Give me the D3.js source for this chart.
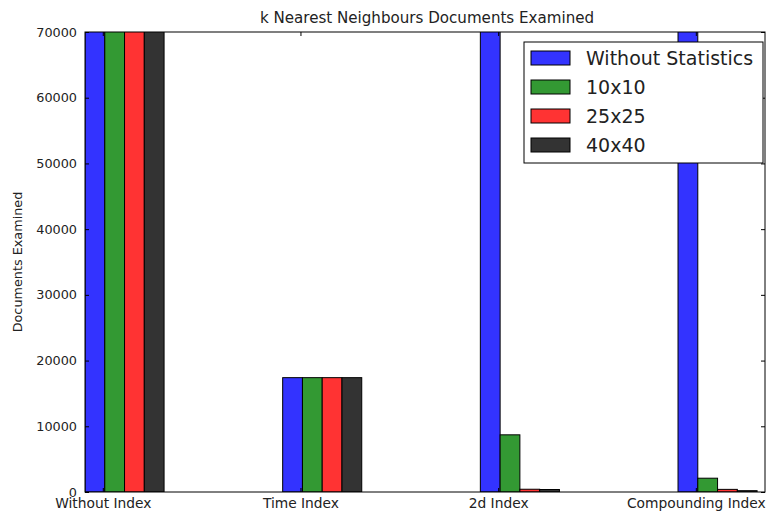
<!DOCTYPE html>
<html>
<head>
<meta charset="utf-8">
<script src="https://cdn.jsdelivr.net/npm/d3@7"></script>
<style>
  html, body { margin: 0; padding: 0; background: #fff; }
  svg { display: block; font-family: "DejaVu Sans", sans-serif; }
</style>
</head>
<body>
<svg id="chart" width="766" height="511"></svg>
<script>
// Index types along the x axis
const categories = ["Without Index", "Time Index", "2d Index", "Compounding Index"];
// Statistics grid configurations (one bar each per index type)
const seriesNames = ["Without Statistics", "10x10", "25x25", "40x40"];
// Documents examined per configuration; values above 70000 run past the axis
const withoutStatistics = [250000, 17400, 250000, 250000];
const grid10 = [250000, 17400, 8700, 2100];
const grid25 = [250000, 17400, 420, 400];
const grid40 = [250000, 17400, 380, 200];
const yTicks = [0, 10000, 20000, 30000, 40000, 50000, 60000, 70000];

const series = [withoutStatistics, grid10, grid25, grid40];
const colors = ["rgb(51,51,255)", "rgb(51,153,51)", "rgb(255,51,51)", "rgb(51,51,51)"];

const svg = d3.select("#chart");
const margin = { left: 85, right: 1, top: 32, bottom: 19 };
const W = 766, H = 511;
const x0 = margin.left, x1 = W - margin.right, y0 = H - margin.bottom, y1 = margin.top;

const barWidth = 0.1;
const x = d3.scaleLinear().domain([0, 3.44]).range([x0, x1]);
const y = d3.scaleLinear().domain([0, 70000]).range([y0, y1]);

svg.append("defs").append("clipPath").attr("id", "plot-clip")
  .append("rect").attr("x", x0).attr("y", y1).attr("width", x1 - x0).attr("height", y0 - y1);

const plot = svg.append("g").attr("clip-path", "url(#plot-clip)");

series.forEach((vals, k) => {
  plot.selectAll(null).data(vals).enter().append("rect")
    .attr("x", (d, i) => x(i + k * barWidth))
    .attr("width", x(barWidth) - x(0))
    .attr("y", d => y(d))
    .attr("height", d => y(0) - y(d))
    .attr("fill", colors[k])
    .attr("stroke", "#000")
    .attr("stroke-width", 1);
});

// Axis frame
svg.append("rect").attr("x", x0).attr("y", y1).attr("width", x1 - x0).attr("height", y0 - y1)
  .attr("fill", "none").attr("stroke", "#000").attr("stroke-width", 1);

// Y axis: ticks pointing inward on both sides
const yAxisL = d3.axisLeft(y).tickValues(yTicks).tickFormat(d3.format("d")).tickSizeInner(-4).tickSizeOuter(0).tickPadding(8);
const gyl = svg.append("g").attr("transform", `translate(${x0},0)`).call(yAxisL);
gyl.select(".domain").remove();
gyl.selectAll("text").attr("font-size", 12.8).attr("fill", "#222").attr("font-family", "DejaVu Sans");
const yAxisR = d3.axisRight(y).tickValues(yTicks).tickFormat("").tickSizeInner(-4).tickSizeOuter(0);
const gyr = svg.append("g").attr("transform", `translate(${x1},0)`).call(yAxisR);
gyr.select(".domain").remove();

// X axis: category labels at the first/second bar boundary
const tickPos = categories.map((c, i) => i + 0.09);
const xAxisB = d3.axisBottom(x).tickValues(tickPos).tickFormat((d, i) => categories[i]).tickSizeInner(-4).tickSizeOuter(0).tickPadding(6);
const gxb = svg.append("g").attr("transform", `translate(0,${y0})`).call(xAxisB);
gxb.select(".domain").remove();
gxb.selectAll("text").attr("font-size", 13.8).attr("fill", "#222").attr("font-family", "DejaVu Sans");
const xAxisT = d3.axisTop(x).tickValues(tickPos).tickFormat("").tickSizeInner(-4).tickSizeOuter(0);
const gxt = svg.append("g").attr("transform", `translate(0,${y1})`).call(xAxisT);
gxt.select(".domain").remove();
svg.selectAll(".tick line").attr("stroke", "#000");

// Title and axis label
svg.append("text").attr("x", 427).attr("y", 23).attr("text-anchor", "middle")
  .attr("font-size", 15.1).attr("fill", "#222").text("k Nearest Neighbours Documents Examined");
svg.append("text").attr("transform", `translate(22,${(y0 + y1) / 2}) rotate(-90)`)
  .attr("text-anchor", "middle").attr("font-size", 12.8).attr("fill", "#222").text("Documents Examined");

// Legend
const lg = svg.append("g").attr("transform", "translate(524,42)");
lg.append("rect").attr("width", 239).attr("height", 121).attr("fill", "#fff").attr("stroke", "#000").attr("stroke-width", 1);
seriesNames.forEach((name, k) => {
  const cy = 16 + k * 29;
  lg.append("rect").attr("x", 7).attr("y", cy - 7).attr("width", 39).attr("height", 14)
    .attr("fill", colors[k]).attr("stroke", "#000").attr("stroke-width", 1);
  lg.append("text").attr("x", 62).attr("y", cy).attr("dy", "0.36em")
    .attr("font-size", 19).attr("fill", "#222").text(name);
});
</script>
</body>
</html>
